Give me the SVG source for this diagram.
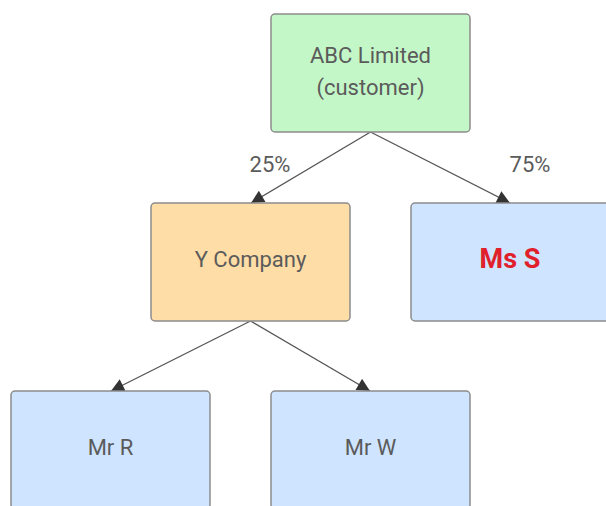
<svg xmlns="http://www.w3.org/2000/svg" width="606" height="506" viewBox="0 0 606 506">
<style>
.box{stroke:#8c8c8c;stroke-width:1.5}
.green{fill:#c3f7c8}
.orange{fill:#ffdda6}
.blue{fill:#cfe4ff}
.t{font-family:Roboto,"Liberation Sans",Arial,sans-serif;font-size:22px;fill:#5b5b5b;text-anchor:middle}
.red{fill:#e0202a;font-weight:bold;font-size:27px}
.edge{stroke:#555;stroke-width:1.3;fill:none;marker-end:url(#arr)}
</style>
<defs>
<marker id="arr" viewBox="0 0 10 10" refX="10" refY="5" markerWidth="14" markerHeight="13" markerUnits="userSpaceOnUse" orient="auto">
<path d="M0,0 L10,5 L0,10 z" fill="#333"/>
</marker>
</defs>
<rect width="606" height="506" fill="#fff"/>
<g id="connectors">
<path class="edge" d="M370.5,132 L251,203"/>
<path class="edge" d="M370.5,132 L510,203"/>
<path class="edge" d="M250.5,321 L111,391"/>
<path class="edge" d="M250.5,321 L370,391"/>
<text class="t" x="270" y="172">25%</text>
<text class="t" x="530" y="172">75%</text>
</g>
<g id="abc">
<rect class="box green" x="271" y="14" width="199" height="118" rx="4"/>
<text class="t" x="370.5" y="63">ABC Limited</text>
<text class="t" x="370.5" y="95">(customer)</text>
</g>
<g id="y">
<rect class="box orange" x="151" y="203" width="199" height="118" rx="4"/>
<text class="t" x="250.5" y="267">Y Company</text>
</g>
<g id="mss">
<rect class="box blue" x="411" y="203" width="199" height="118" rx="4"/>
<text class="t red" x="510" y="268">Ms S</text>
</g>
<g id="mrr">
<rect class="box blue" x="11" y="391" width="199" height="118" rx="4"/>
<text class="t" x="110.5" y="455">Mr R</text>
</g>
<g id="mrw">
<rect class="box blue" x="271" y="391" width="199" height="118" rx="4"/>
<text class="t" x="370.5" y="455">Mr W</text>
</g>
</svg>
